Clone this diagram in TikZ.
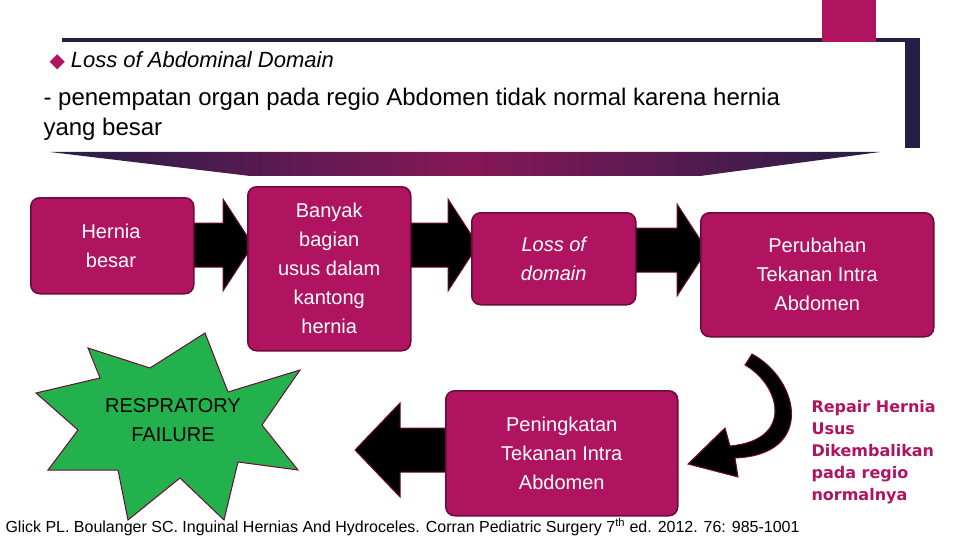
\documentclass[tikz,border=0pt]{standalone}
\usepackage{fontspec}
\setmainfont{Liberation Sans}
\newfontfamily\symfont{DejaVu Sans}
\usetikzlibrary{shapes.geometric,shapes.symbols}
\definecolor{maroon}{RGB}{176,20,96}
\definecolor{edge}{RGB}{110,10,55}
\definecolor{navy}{RGB}{38,30,70}
\definecolor{starg}{RGB}{34,177,76}
\tikzset{
  box/.style={draw=edge, line width=1.5pt, fill=maroon, rounded corners=9pt, text=white,
    align=center, font=\fontsize{20}{29}\selectfont, inner sep=0pt},
  blockarrow/.style={fill=black, draw=edge, line width=1pt},
}
\newcommand\rarrow[3]{% tail x, tip x, mid y
  \path[blockarrow] (#1,#3-22) -- (#2-30,#3-22) -- (#2-30,#3-46) -- (#2,#3) -- (#2-30,#3+46)
    -- (#2-30,#3+22) -- (#1,#3+22) -- cycle;}
\begin{document}
\begin{tikzpicture}[x=1pt,y=-1pt]
\useasboundingbox (0,0) rectangle (960,540);
		% the header
		\fill[navy] (62,38) rectangle (920,148);
		\fill[maroon] (822,0) rectangle (876,42);
		\fill[white] (45,42) rectangle (905,150);
		\shade[left color=navy, right color=navy, middle color=maroon!70!navy]
		  (50,152) -- (880,152) -- (700,176) -- (250,176) -- cycle;
		\node[anchor=west, font=\fontsize{22}{24}\selectfont\itshape] (title) at (46,61)
		  {\textcolor{maroon}{\symfont\fontsize{20}{20}\selectfont\symbol{"25C6}}\hspace{6pt}Loss of Abdominal Domain};
		\node[anchor=north west, align=left, font=\fontsize{24}{30}\selectfont] (desc) at (40,85)
		  { - penempatan organ pada regio Abdomen tidak normal karena hernia\\yang besar};
	
		% the arrows
		\rarrow{185}{253}{245}
		\rarrow{405}{478}{245}
		\rarrow{630}{707}{250}
		\path[blockarrow] (447,428) -- (400,428) -- (400,403) -- (355,450) -- (400,497)
		  -- (400,472) -- (447,472) -- cycle;
		\fill[black, draw=edge, line width=1pt] (752,354) .. controls (800,380) and (815,455) .. (735,458)
		  -- (738,477) -- (688,464) -- (725,428) -- (730,446)
		  .. controls (795,440) and (780,385) .. (745,365) -- cycle;
	
		% the boxes
		\node[box, minimum width=163pt, minimum height=96pt, anchor=north west] (hernia) at (30,197) {};
		\node[align=center, text=white, font=\fontsize{20}{29}\selectfont] (herniatext) at (111,246) {Hernia\\besar};
		\node[box, minimum width=163pt, minimum height=164pt, anchor=north west] (banyak) at (247,186)
		  {Banyak\\bagian\\usus dalam\\kantong\\hernia};
		\node[box, minimum width=164pt, minimum height=92pt, anchor=north west] (loss) at (471,212)
		  {\itshape Loss of\\\itshape domain};
		\node[box, minimum width=233pt, minimum height=124pt, anchor=north west] (perubahan) at (700,212)
		  {Perubahan\\Tekanan Intra\\Abdomen};
		\node[box, minimum width=232pt, minimum height=125pt, anchor=north west] (peningkatan) at (445,390)
		  {Peningkatan\\Tekanan Intra\\Abdomen};
		\fill[starg, draw=edge, line width=1pt] (205,333) -- (228,392) -- (300,370) -- (262,425)
		  -- (298,470) -- (238,462) -- (224,520) -- (180,478) -- (128,520) -- (118,470)
		  -- (48,470) -- (78,430) -- (36,393) -- (100,378) -- (88,348) -- (150,368) -- cycle;
		\node[align=center, font=\fontsize{20}{29}\selectfont] (failtext) at (173,420) {RESPRATORY\\FAILURE};
		\node[anchor=north west, align=left, text=maroon, font=\symfont\fontsize{16}{22}\selectfont\bfseries] (repair) at (808,397)
		  {Repair Hernia\\Usus\\Dikembalikan\\pada regio\\normalnya};
		\node[anchor=west, font=\fontsize{16}{16}\selectfont] (ref) at (2,527)
		  {Glick PL. Boulanger SC. Inguinal Hernias And Hydroceles. Corran Pediatric Surgery 7\textsuperscript{th} ed. 2012. 76: 985-1001};
	\end{tikzpicture}
\end{document}
